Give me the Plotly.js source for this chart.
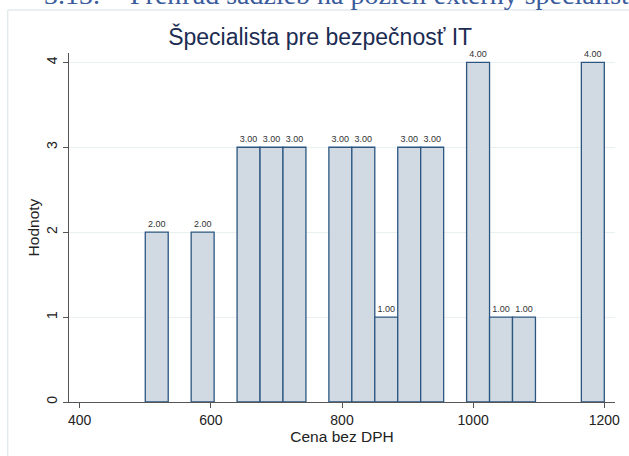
<!DOCTYPE html>
<html>
<head>
<meta charset="utf-8">
<script src="https://cdn.plot.ly/plotly-3.0.1.min.js"></script>
<style>
html, body { margin: 0; padding: 0; background: #ffffff; overflow: hidden; }
#chart { width: 629px; height: 456px; }
</style>
</head>
<body>
<div id="chart"></div>
<script>
// Data
const binStarts = [500, 570, 640, 675, 710, 780, 815, 850, 885, 920, 990, 1025, 1060, 1165];
const counts    = [2, 2, 3, 3, 3, 3, 3, 1, 3, 3, 4, 1, 1, 4];
const binWidth = 35;
const xTicks = [400, 600, 800, 1000, 1200];
const yTicks = [0, 1, 2, 3, 4];
const chartTitle = "Špecialista pre bezpečnosť IT";
const xTitle = "Cena bez DPH";
const yTitle = "Hodnoty";
const sectionNumber = "3.13.";
const sectionTitle = "Prehľad sadzieb na pozícii externý špecialista pre bezpečnosť IT";

const trace = {
  type: 'bar',
  x: binStarts,
  y: counts,
  width: binStarts.map(() => binWidth),
  offset: 0,
  marker: { color: '#d1dae3', line: { color: '#2b5680', width: 1.3 } },
  text: counts.map(v => v.toFixed(2)),
  textposition: 'outside',
  textfont: { family: 'Liberation Sans, Arial, sans-serif', size: 9, color: '#333333' },
  cliponaxis: false,
  hoverinfo: 'skip'
};

const axisFont = { family: 'Liberation Sans, Arial, sans-serif', size: 14, color: '#222222' };
const titleFont = { family: 'Liberation Sans, Arial, sans-serif', size: 15.5, color: '#222222' };

const layout = {
  width: 629, height: 456,
  margin: { l: 69, r: 14, t: 53, b: 54 },
  paper_bgcolor: '#ffffff', plot_bgcolor: '#ffffff',
  showlegend: false,
  bargap: 0,
  title: {
    text: chartTitle,
    font: { family: 'Liberation Sans, Arial, sans-serif', size: 23, color: '#1c2c52' },
    xref: 'container', x: 0.509, xanchor: 'center',
    yref: 'container', y: 1 - 37 / 456, yanchor: 'middle'
  },
  xaxis: {
    range: [383.7, 1216.3],
    tickmode: 'array', tickvals: xTicks, ticktext: xTicks.map(String),
    ticks: 'outside', ticklen: 5, tickwidth: 1, tickcolor: '#555555',
    showline: true, linecolor: '#555555', linewidth: 1.2,
    showgrid: false, zeroline: false,
    tickfont: axisFont,
    title: { text: xTitle, font: titleFont, standoff: 3 }
  },
  yaxis: {
    range: [0, 4.11],
    tickmode: 'array', tickvals: yTicks, ticktext: yTicks.map(String),
    tickangle: -90,
    ticks: 'outside', ticklen: 5, tickwidth: 1, tickcolor: '#555555',
    showline: true, linecolor: '#555555', linewidth: 1.2,
    showgrid: true, gridcolor: '#e9f0f2', gridwidth: 1,
    zeroline: false,
    tickfont: axisFont,
    title: { text: yTitle, font: titleFont, standoff: 0 }
  },
  shapes: [
    { type: 'line', xref: 'paper', yref: 'paper', x0: -0.1123, x1: -0.1123, y0: -0.2, y1: 1.1232,
      line: { color: '#e2eaee', width: 1.5 } },
    { type: 'line', xref: 'paper', yref: 'paper', x0: -0.1123, x1: 1.05, y0: 1.1232, y1: 1.1232,
      line: { color: '#e2eaee', width: 1.5 } }
  ],
  annotations: [
    { xref: 'paper', yref: 'paper', x: (42 - 69.3) / 545.7, y: (402 - 12) / 349,
      xanchor: 'left', yanchor: 'bottom', showarrow: false, text: sectionNumber,
      font: { family: 'Liberation Serif, Times New Roman, serif', size: 28, color: '#3a5b9c' } },
    { xref: 'paper', yref: 'paper', x: (128 - 69.3) / 545.7, y: (402 - 12) / 349,
      xanchor: 'left', yanchor: 'bottom', showarrow: false, text: sectionTitle,
      font: { family: 'Liberation Serif, Times New Roman, serif', size: 28, color: '#3a5b9c' } }
  ]
};

Plotly.newPlot('chart', [trace], layout, { displayModeBar: false, staticPlot: true });
</script>
</body>
</html>
